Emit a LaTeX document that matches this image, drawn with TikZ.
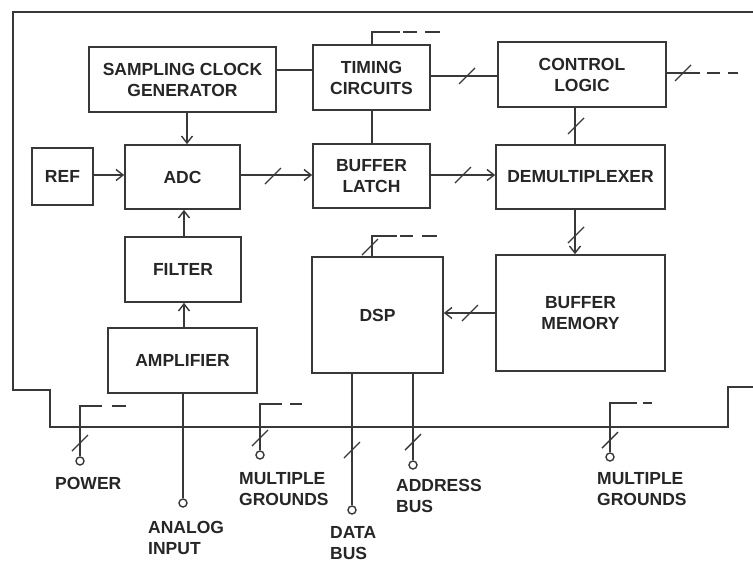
\documentclass[tikz,border=0pt]{standalone}
\usepackage{fontspec}
\setmainfont{Liberation Sans}
\usetikzlibrary{arrows.meta,calc}
\begin{document}
\begin{tikzpicture}[x=1pt,y=-1pt,
  ln/.style={draw=black!78, line width=1.7pt},
  txt/.style={font=\fontsize{17.5}{21}\selectfont\bfseries, text=black!85},
  blk/.style={ln, rectangle, inner sep=2pt, align=center, txt},
  lbl/.style={anchor=west, inner sep=0pt, align=left, txt},
  port/.style={circle, ln, line width=1.4pt, inner sep=0pt, minimum size=8pt, fill=white},
  arr/.style={-{Straight Barb[length=7pt,width=11pt,line width=1.4pt]}},
  bm/.pic={\draw[ln, line width=1.4pt] (-8,8) -- (8,-8);}
]
\useasboundingbox (0,0) rectangle (753,563);

% enclosure
\draw[ln] (753,12) -- (13,12) -- (13,390) -- (50,390) -- (50,427) -- (728,427) -- (728,387) -- (753,387);

% blocks
\node[blk, minimum width=187pt, minimum height=65pt] (scg) at (182.5,79.5) {SAMPLING CLOCK\\GENERATOR};
\node[blk, minimum width=117pt, minimum height=65pt] (tc) at (371.5,77.5) {TIMING\\CIRCUITS};
\node[blk, minimum width=168pt, minimum height=65pt] (cl) at (582,74.5) {CONTROL\\LOGIC};
\node[blk, minimum width=61pt, minimum height=57pt] (ref) at (62.5,176.5) {REF};
\node[blk, minimum width=115pt, minimum height=64pt] (adc) at (182.5,177) {ADC};
\node[blk, minimum width=117pt, minimum height=64pt] (bl) at (371.5,176) {BUFFER\\LATCH};
\node[blk, minimum width=169pt, minimum height=64pt] (dm) at (580.5,177) {DEMULTIPLEXER};
\node[blk, minimum width=116pt, minimum height=65pt] (fi) at (183,269.5) {FILTER};
\node[blk, minimum width=149pt, minimum height=65pt] (amp) at (182.5,360.5) {AMPLIFIER};
\node[blk, minimum width=131pt, minimum height=116pt] (dsp) at (377.5,315) {DSP};
\node[blk, minimum width=169pt, minimum height=116pt] (bm) at (580.5,313) {BUFFER\\MEMORY};

% ports
\node[port] (pw) at (80,461) {};
\node[port] (g1) at (260,455) {};
\node[port] (ai) at (183,503) {};
\node[port] (db) at (352,510) {};
\node[port] (ab) at (413,465) {};
\node[port] (g2) at (610,457) {};

% labels
\node[lbl] (pwl) at (55,483) {POWER};
\node[lbl] (g1l) at (239,489) {MULTIPLE\\GROUNDS};
\node[lbl] (ail) at (148,538) {ANALOG\\INPUT};
\node[lbl] (dbl) at (330,543) {DATA\\BUS};
\node[lbl] (abl) at (396,496) {ADDRESS\\BUS};
\node[lbl] (g2l) at (597,489) {MULTIPLE\\GROUNDS};

% connectors between blocks
\draw[ln] (scg.east |- 0,70) -- (tc.west |- 0,70);
\draw[ln] (tc.east |- 0,76) -- (cl.west |- 0,76);
\pic at (467,76) {bm};
\draw[ln] (tc.south -| 372,0) -- (bl.north -| 372,0);
\draw[ln, arr] (scg.south -| 187,0) -- (adc.north -| 187,0);
\draw[ln, arr] (ref.east |- 0,175) -- (adc.west |- 0,175);
\draw[ln, arr] (adc.east |- 0,175) -- (bl.west |- 0,175);
\pic at (273,176) {bm};
\draw[ln, arr] (bl.east |- 0,175) -- (dm.west |- 0,175);
\pic at (463,175) {bm};
\draw[ln] (cl.south -| 575,0) -- (dm.north -| 575,0);
\pic at (576,126) {bm};
\draw[ln, arr] (dm.south -| 575,0) -- (bm.north -| 575,0);
\pic at (576,235) {bm};
\draw[ln, arr] (bm.west |- 0,313) -- (dsp.east |- 0,313);
\pic at (470,313) {bm};
\draw[ln, arr] (fi.north -| 184,0) -- (adc.south -| 184,0);
\draw[ln, arr] (amp.north -| 184,0) -- (fi.south -| 184,0);

% timing tail
\coordinate (tt) at (400,32);
\draw[ln] (tc.north -| 372,0) |- (tt);
\draw[ln, dash pattern=on 0pt off 3pt on 14pt off 8pt on 16pt off 20pt] (tt) -- (440,32);
% control logic tail
\coordinate (ct) at (700,73);
\draw[ln] (cl.east |- ct) -- (ct);
\pic at (683,73) {bm};
\draw[ln, dash pattern=on 0pt off 7pt on 13pt off 8pt on 10pt off 20pt] (ct) -- (738,73);
% dsp tail
\coordinate (dt) at (397,236);
\draw[ln] (dsp.north -| 372,0) |- (dt);
\pic at (370,247) {bm};
\draw[ln, dash pattern=on 0pt off 3pt on 13pt off 9pt on 15pt off 20pt] (dt) -- (437,236);

% bottom I/O
\coordinate (pt) at (102,406);
\draw[ln] (pw) |- (pt);
\draw[ln, dash pattern=on 0pt off 10pt on 14pt off 20pt] (pt) -- (126,406);
\pic at (80,443) {bm};

\coordinate (g1t) at (282,404);
\draw[ln] (g1) |- (g1t);
\draw[ln, dash pattern=on 0pt off 8pt on 12pt off 20pt] (g1t) -- (302,404);
\pic at (260,438) {bm};

\coordinate (g2t) at (637,403);
\draw[ln] (g2) |- (g2t);
\draw[ln, dash pattern=on 0pt off 6pt on 9pt off 20pt] (g2t) -- (652,403);
\pic at (610,440) {bm};

\draw[ln] (amp.south -| ai) -- (ai);
\draw[ln] (dsp.south -| db) -- (db);
\pic at (352,450) {bm};
\draw[ln] (dsp.south -| ab) -- (ab);
\pic at (413,442) {bm};
\end{tikzpicture}
\end{document}
